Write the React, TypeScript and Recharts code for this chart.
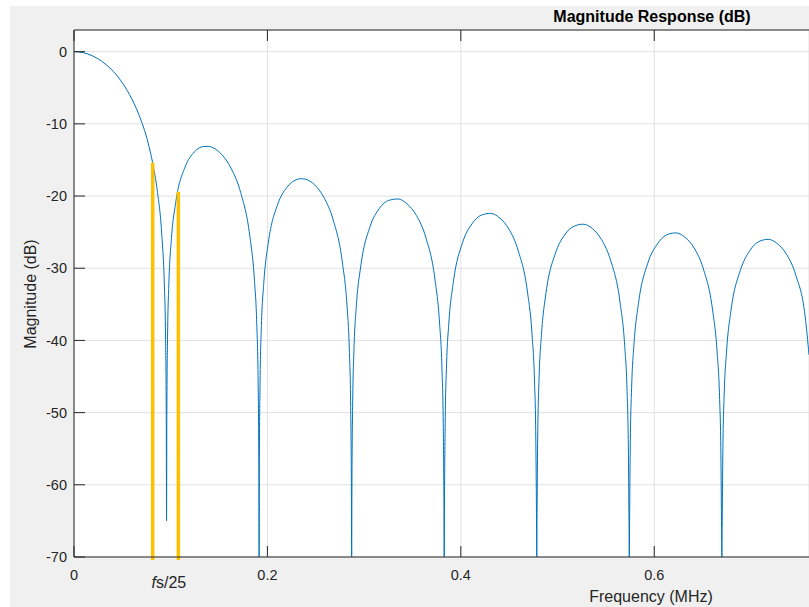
import React from 'react';
import { LineChart, Line, XAxis, YAxis, CartesianGrid, ReferenceLine } from 'recharts';

// Frequency axis samples (MHz), grouped by lobe of the response
const freqMHz = [
  // main lobe
  0, 0.0096, 0.0191, 0.0287, 0.0383, 0.0479, 0.0574, 0.067, 0.0766, 0.0813, 0.0861, 0.0909, 0.0933, 0.0947, 0.0954, 0.0957,
  // sidelobe 1
  0.096, 0.0967, 0.0981, 0.1005, 0.1053, 0.1148, 0.1244, 0.134, 0.1388, 0.1436, 0.1531, 0.1627, 0.1723, 0.1818, 0.1866, 0.189, 0.1904, 0.1911, 0.1914,
  // sidelobe 2
  0.1917, 0.1924, 0.1938, 0.1962, 0.201, 0.2105, 0.2201, 0.2297, 0.2345, 0.2393, 0.2488, 0.2584, 0.268, 0.2775, 0.2823, 0.2847, 0.2861, 0.2868, 0.2871,
  // sidelobe 3
  0.2874, 0.2881, 0.2895, 0.2919, 0.2967, 0.3062, 0.3158, 0.3254, 0.335, 0.3445, 0.3541, 0.3637, 0.3732, 0.378, 0.3804, 0.3818, 0.3825, 0.3828,
  // sidelobe 4
  0.3831, 0.3838, 0.3852, 0.3876, 0.3924, 0.4019, 0.4115, 0.4211, 0.4307, 0.4402, 0.4498, 0.4594, 0.4689, 0.4737, 0.4761, 0.4775, 0.4782, 0.4785,
  // sidelobe 5
  0.4788, 0.4795, 0.4809, 0.4833, 0.4881, 0.4976, 0.5072, 0.5168, 0.5264, 0.5359, 0.5455, 0.5551, 0.5646, 0.5694, 0.5718, 0.5732, 0.5739, 0.5742,
  // sidelobe 6
  0.5745, 0.5752, 0.5766, 0.579, 0.5838, 0.5933, 0.6029, 0.6125, 0.6221, 0.6316, 0.6412, 0.6508, 0.6603, 0.6651, 0.6675, 0.6689, 0.6696, 0.6699,
  // sidelobe 7
  0.6702, 0.6709, 0.6723, 0.6747, 0.6795, 0.689, 0.6986, 0.7082, 0.7178, 0.7273, 0.7369, 0.7465, 0.756, 0.76,
];

// Magnitude (dB) at each frequency above
const magnitudeDb = [
  0, -0.14, -0.58, -1.33, -2.42, -3.92, -5.94, -8.69, -12.62, -15.39, -19.23, -25.6, -31.8, -39.9, -50.4, -65,
  -50.3, -39.9, -32.1, -26.3, -20.8, -16.0, -13.9, -13.14, -13.12, -13.3, -14.3, -16.23, -19.5, -25.56, -31.7, -37.8, -45.8, -56.3, -70,
  -56.2, -45.8, -37.9, -32.1, -26.4, -21.2, -18.8, -17.75, -17.6, -17.67, -18.45, -20.2, -23.3, -29.2, -35.2, -41.3, -49.3, -59.7, -70,
  -59.6, -49.2, -41.2, -35.3, -29.55, -24.2, -21.7, -20.6, -20.4, -21.1, -22.7, -25.7, -31.5, -37.6, -43.6, -51.6, -62.1, -70,
  -61.9, -51.5, -43.5, -37.6, -31.8, -26.4, -23.85, -22.65, -22.4, -23.04, -24.6, -27.6, -33.3, -39.3, -45.4, -53.4, -63.8, -70,
  -63.6, -53.2, -45.2, -39.3, -33.4, -28.0, -25.4, -24.2, -23.9, -24.5, -26.05, -29.0, -34.7, -40.7, -46.7, -54.7, -65.2, -70,
  -64.9, -54.5, -46.5, -40.6, -34.75, -29.3, -26.7, -25.4, -25.1, -25.7, -27.2, -30.1, -35.8, -41.8, -47.8, -55.8, -66.2, -70,
  -65.9, -55.5, -47.5, -41.6, -35.7, -30.3, -27.6, -26.3, -26.0, -26.6, -28.1, -31.0, -36.65, -42.0,
];

// Band-edge markers around fs/25
const markerFreqMHz = [0.0814, 0.1079];
const markerTopDb = [-15.4, -19.4];
const fsOver25MHz = 0.096;

const xTicks = [0, 0.2, 0.4, 0.6];
const yTicks = [-70, -60, -50, -40, -30, -20, -10, 0];
const xDomain: [number, number] = [0, 0.76];
const yDomain: [number, number] = [-70, 3];

const data = freqMHz.map((f, i) => ({ f, db: magnitudeDb[i] }));

const FONT = '"Liberation Sans", Arial, Helvetica, sans-serif';
const INK = '#262626';
const BLUE = '#0072BD';
const GOLD = '#FFC000';

function FsLabel(props: any) {
  const vb = props.viewBox || {};
  const x = vb.x ?? 0;
  const y0 = vb.y ?? 0;
  const bottom = Math.max(y0, y0 + (vb.height ?? 0));
  return (
    <text x={x + 2} y={bottom + 31} textAnchor="middle" fontSize={16} fill={INK} fontFamily={FONT}>
      <tspan fontStyle="italic">f</tspan>
      <tspan>s/25</tspan>
    </text>
  );
}

export default function App() {
  return (
    <div
      style={{
        position: 'absolute',
        left: 0,
        top: 0,
        width: 809,
        height: 607,
        background: '#ffffff',
        overflow: 'hidden',
        fontFamily: FONT,
      }}
    >
      <div style={{ position: 'absolute', left: 10, top: 6, right: 0, bottom: 0, background: '#f0f0f0' }} />
      <div style={{ position: 'absolute', left: 0, top: 0 }}>
        <LineChart width={809} height={607} data={data} margin={{ top: 19, right: 0, bottom: 0, left: 0 }}>
          <CartesianGrid xAxisId="b" stroke="#e1e1e1" fill="#ffffff" />
          <XAxis
            xAxisId="b"
            type="number"
            dataKey="f"
            orientation="bottom"
            domain={xDomain}
            ticks={xTicks}
            allowDataOverflow
            height={50}
            tickSize={-11}
            tickMargin={24}
            axisLine={{ stroke: INK }}
            tickLine={{ stroke: INK }}
            tick={{ fill: INK, fontSize: 14.5, fontFamily: FONT }}
            tickFormatter={(v: number) => String(v)}
          />
          <XAxis
            xAxisId="t"
            type="number"
            dataKey="f"
            orientation="top"
            domain={xDomain}
            ticks={xTicks}
            allowDataOverflow
            height={11}
            tickSize={-11}
            axisLine={{ stroke: INK }}
            tickLine={{ stroke: INK }}
            tick={{ fill: INK, fontSize: 1 }}
            tickFormatter={() => ''}
          />
          <YAxis
            type="number"
            domain={yDomain}
            ticks={yTicks}
            allowDataOverflow
            width={74}
            tickSize={-11}
            tickMargin={18}
            axisLine={{ stroke: INK }}
            tickLine={{ stroke: INK }}
            tick={{ fill: INK, fontSize: 14.5, fontFamily: FONT }}
          />
          <Line
            xAxisId="b"
            type="monotone"
            dataKey="db"
            stroke={BLUE}
            strokeWidth={1}
            dot={false}
            activeDot={false}
            isAnimationActive={false}
          />
          {markerFreqMHz.map((f, i) => (
            <ReferenceLine
              key={f}
              xAxisId="b"
              segment={[
                { x: f, y: -70.4 },
                { x: f, y: markerTopDb[i] },
              ]}
              stroke={GOLD}
              strokeWidth={3.5}
              ifOverflow="visible"
            />
          ))}
          <ReferenceLine xAxisId="b" x={fsOver25MHz} stroke="none" label={<FsLabel />} />
        </LineChart>
      </div>
      <svg
        width={809}
        height={607}
        style={{ position: 'absolute', left: 0, top: 0, pointerEvents: 'none' }}
        fontFamily={FONT}
      >
        <text x={652} y={22} textAnchor="middle" fontSize={16} fontWeight="bold" fill="#000">
          Magnitude Response (dB)
        </text>
        <text x={651} y={602} textAnchor="middle" fontSize={16} fill={INK}>
          Frequency (MHz)
        </text>
        <text x={36} y={294} textAnchor="middle" fontSize={16} fill={INK} transform="rotate(-90 36 294)">
          Magnitude (dB)
        </text>
      </svg>
    </div>
  );
}
